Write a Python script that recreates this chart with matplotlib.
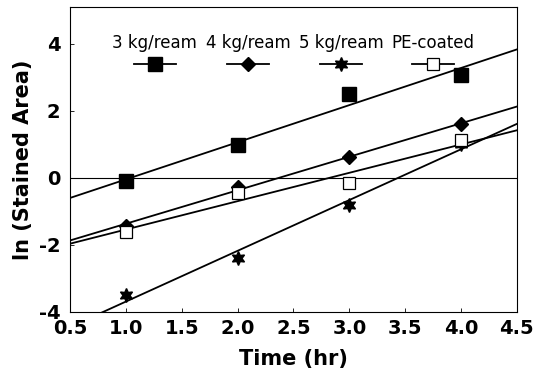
import matplotlib.pyplot as plt
import numpy as np
from matplotlib.lines import Line2D
from matplotlib.offsetbox import AnchoredOffsetbox, DrawingArea, HPacker, TextArea, VPacker

plt.rcParams['font.family'] = ['DejaVu Sans']
plt.rcParams['axes.unicode_minus'] = False

# data
time = [1.0, 2.0, 3.0, 4.0]
kg3 = [-0.1, 0.98, 2.52, 3.08]
kg4 = [-1.43, -0.27, 0.63, 1.6]
kg5 = [-3.5, -2.39, -0.8, 1.02]
pe = [-1.6, -0.45, -0.15, 1.12]
labels = ['3 kg/ream', '4 kg/ream', '5 kg/ream', 'PE-coated']

hexstar = (6, 1, 0)
styles = [
    dict(marker='s', ms=9.5, mfc='black', mec='black'),
    dict(marker='D', ms=7, mfc='black', mec='black'),
    dict(marker=hexstar, ms=10, mfc='black', mec='black'),
    dict(marker='s', ms=9, mfc='white', mec='black', mew=0.9),
]

fig = plt.figure(figsize=(5.44, 3.74), dpi=100)
ax = fig.add_axes([0.129, 0.166, 0.821, 0.815])

xfit = np.array([0.5, 4.5])
for ys, st in zip([kg3, kg4, kg5, pe], styles):
    k, b = np.polyfit(time, ys, 1)
    ax.plot(xfit, k * xfit + b, color='black', lw=1.3, zorder=2)
    ax.plot(time, ys, ls='none', zorder=3, **st)

ax.axhline(0, color='black', lw=0.8, zorder=1)

ax.set_xlim(0.5, 4.5)
ax.set_ylim(-4, 5.1)
ax.set_xticks(np.arange(0.5, 4.51, 0.5))
ax.set_xticklabels([f'{v:.1f}' for v in np.arange(0.5, 4.51, 0.5)])
ax.set_yticks([-4, -2, 0, 2, 4])
ax.tick_params(direction='in', length=3, width=0.6, labelsize=14)
ax.tick_params(axis='x', pad=5)
ax.tick_params(axis='y', pad=7)
for lab in ax.get_xticklabels() + ax.get_yticklabels():
    lab.set_fontweight('bold')
for sp in ax.spines.values():
    sp.set_linewidth(0.8)

ax.set_xlabel('Time (hr)', fontsize=15, fontweight='bold', labelpad=8)
ax.set_ylabel('ln (Stained Area)', fontsize=15, fontweight='bold', labelpad=4)

# legend: label above a short line with marker
cols = []
for lab, st in zip(labels, styles):
    da = DrawingArea(30, 14, 0, 0)
    da.add_artist(Line2D([0, 15, 30], [7, 7, 7], color='black', lw=1.3,
                         markevery=[1], **st))
    col = VPacker(children=[TextArea(lab, textprops=dict(fontsize=12)), da],
                  align='center', pad=0, sep=2)
    cols.append(col)
box = HPacker(children=cols, align='center', pad=0, sep=6)
anch = AnchoredOffsetbox(loc='upper center', child=box, frameon=False,
                         bbox_to_anchor=(0.5, 0.93), bbox_transform=ax.transAxes,
                         borderpad=0)
ax.add_artist(anch)

fig.savefig('out.png', dpi=100)
